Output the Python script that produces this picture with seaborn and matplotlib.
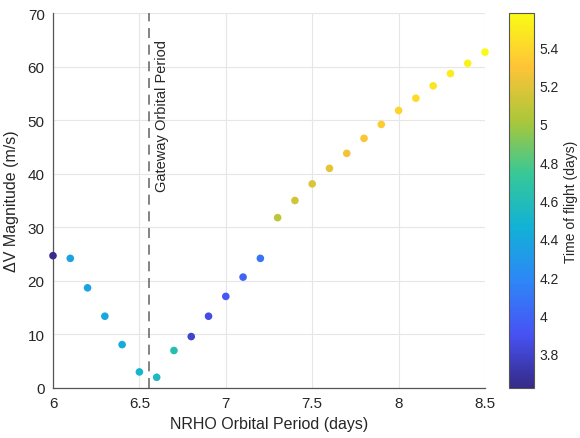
import numpy as np
import pandas as pd
import matplotlib
matplotlib.use("Agg")
import matplotlib.pyplot as plt
import seaborn as sns
from matplotlib.colors import LinearSegmentedColormap, Normalize
from matplotlib.cm import ScalarMappable

# NRHO orbital period (days)
period = [6.0, 6.1, 6.2, 6.3, 6.4, 6.5, 6.6, 6.7, 6.8, 6.9, 7.0, 7.1, 7.2,
          7.3, 7.4, 7.5, 7.6, 7.7, 7.8, 7.9, 8.0, 8.1, 8.2, 8.3, 8.4, 8.5]
# Delta-V magnitude (m/s)
dv = [24.7, 24.2, 18.7, 13.4, 8.1, 3.0, 2.0, 7.0, 9.6, 13.4, 17.1, 20.7, 24.2,
      31.8, 35.0, 38.1, 41.0, 43.8, 46.6, 49.2, 51.8, 54.1, 56.4, 58.7, 60.6, 62.7]
# time of flight (days)
tof = [3.64, 4.36, 4.37, 4.40, 4.42, 4.50, 4.55, 4.62, 3.80, 3.86, 3.93, 3.99, 4.08,
       5.08, 5.14, 5.18, 5.22, 5.26, 5.30, 5.34, 5.38, 5.42, 5.46, 5.50, 5.54, 5.58]
gateway_period = 6.558
cbar_ticks = [3.8, 4.0, 4.2, 4.4, 4.6, 4.8, 5.0, 5.2, 5.4]

df = pd.DataFrame({"period": period, "dv": dv, "tof": tof})

parula = LinearSegmentedColormap.from_list("parula", [
    (0.2081, 0.1663, 0.5292),
    (0.2810, 0.3228, 0.9579),
    (0.1786, 0.5289, 0.9682),
    (0.0689, 0.6948, 0.8394),
    (0.2161, 0.7843, 0.5923),
    (0.6720, 0.7793, 0.2227),
    (0.9970, 0.7659, 0.2199),
    (0.9769, 0.9839, 0.0805),
])
clim = (3.62, 5.58)

sns.set_style("white")
plt.rcParams["font.family"] = ["Liberation Sans", "DejaVu Sans"]
text_col = "#262626"

fig = plt.figure(figsize=(5.8, 4.39), dpi=100)
ax = fig.add_axes([53 / 580, 1 - 389 / 439, (485 - 53) / 580, (389 - 14) / 439])
cax = fig.add_axes([509 / 580, 1 - 389 / 439, 25 / 580, (389 - 14) / 439])

sns.scatterplot(data=df, x="period", y="dv", hue="tof", palette=parula,
                hue_norm=clim, s=30, edgecolor="none", legend=False, ax=ax,
                zorder=3, clip_on=False)

ax.axvline(gateway_period, color="#6e6e6e", lw=1.2, ls=(0, (6, 4)), zorder=2)
ax.text(gateway_period + 0.03, 65.2, "Gateway Orbital Period", rotation=90,
        ha="left", va="top", fontsize=10.5, color=text_col)

ax.set_xlim(6, 8.5)
ax.set_ylim(0, 70)
ax.set_xticks([6, 6.5, 7, 7.5, 8, 8.5])
ax.set_xticklabels(["6", "6.5", "7", "7.5", "8", "8.5"])
ax.set_yticks(range(0, 71, 10))
ax.grid(True, color="#e6e6e6", lw=0.8)
ax.set_axisbelow(True)
for s in ["top", "right"]:
    ax.spines[s].set_visible(False)
for s in ["left", "bottom"]:
    ax.spines[s].set_color("#555555")
    ax.spines[s].set_linewidth(0.9)
ax.tick_params(direction="in", length=4, width=0.8, colors="#555555",
               labelcolor=text_col, labelsize=11, pad=6)
ax.set_xlabel("NRHO Orbital Period (days)", fontsize=11.5, color=text_col, labelpad=4)
ax.set_ylabel("\u0394V Magnitude (m/s)", fontsize=11.5, color=text_col, labelpad=6)

sm = ScalarMappable(norm=Normalize(*clim), cmap=parula)
cb = fig.colorbar(sm, cax=cax)
cb.set_ticks(cbar_ticks)
cb.set_ticklabels(["3.8", "4", "4.2", "4.4", "4.6", "4.8", "5", "5.2", "5.4"])
cb.outline.set_edgecolor("#555555")
cb.outline.set_linewidth(0.8)
cax.tick_params(direction="in", length=4, width=0.8, colors="#555555",
                labelcolor=text_col, labelsize=10, pad=4)
cb.set_label("Time of flight (days)", fontsize=10, color=text_col, labelpad=4)

fig.savefig("out.png", dpi=100)
